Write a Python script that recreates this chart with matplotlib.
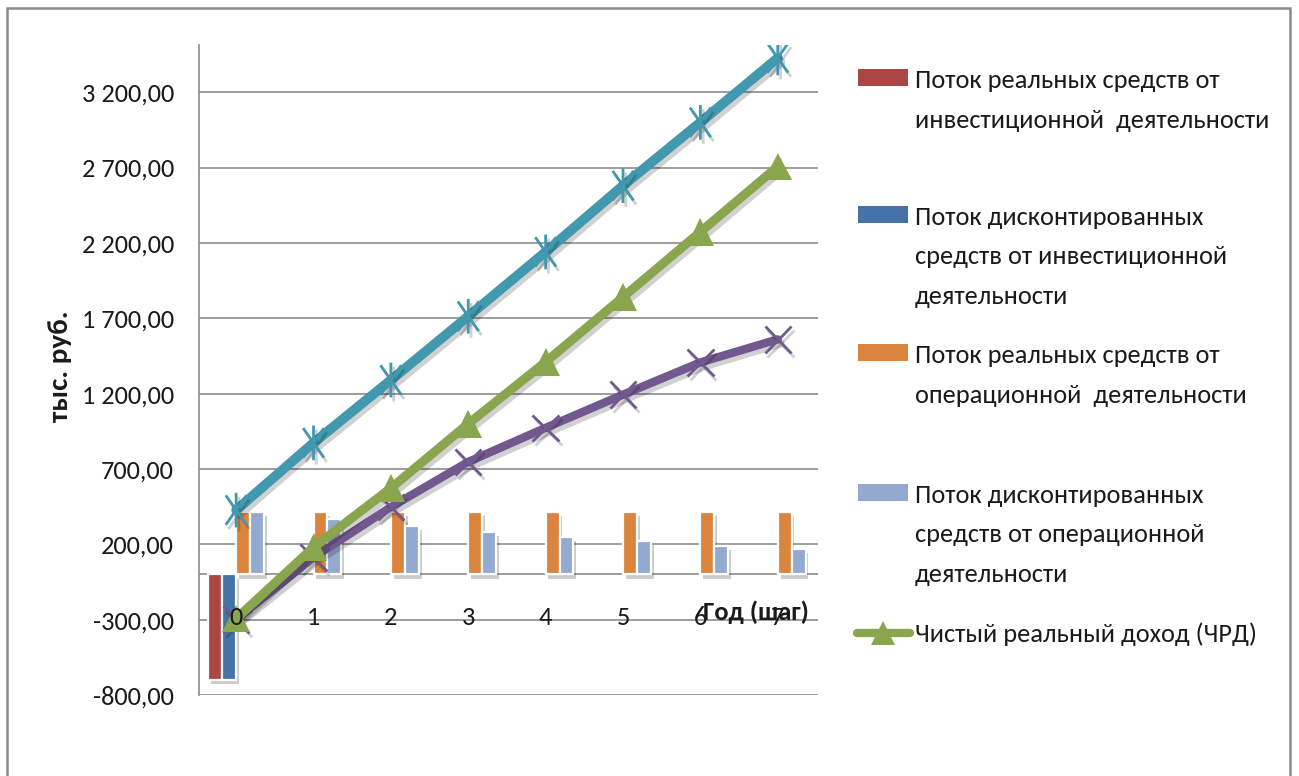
import matplotlib
matplotlib.use("Agg")
import matplotlib.pyplot as plt
import matplotlib.patheffects as pe
from matplotlib.path import Path
from matplotlib.patches import Rectangle
from matplotlib.lines import Line2D
from matplotlib import font_manager
import numpy as np

# ---- data (тыс. руб.) ----
years = [0, 1, 2, 3, 4, 5, 6, 7]
invest_real = [-700, 0, 0, 0, 0, 0, 0, 0]
invest_disc = [-700, 0, 0, 0, 0, 0, 0, 0]
oper_real = [413, 413, 413, 413, 413, 413, 413, 413]
oper_disc = [413, 367, 320, 280, 247, 220, 187, 167]
cum_oper = [427, 873, 1290, 1713, 2140, 2580, 3000, 3427]
net_real = [-293, 180, 573, 1000, 1410, 1840, 2273, 2707]
net_disc = [-300, 113, 447, 747, 973, 1193, 1407, 1560]

y_ticks = [-800, -300, 200, 700, 1200, 1700, 2200, 2700, 3200]

legend_labels = [
    ["Поток реальных средств от", "инвестиционной  деятельности"],
    ["Поток дисконтированных", "средств от инвестиционной", "деятельности"],
    ["Поток реальных средств от", "операционной  деятельности"],
    ["Поток дисконтированных", "средств от операционной", "деятельности"],
    ["Чистый реальный доход (ЧРД)"],
]

# ---- styling ----
available = {f.name for f in font_manager.fontManager.ttflist}
base_font = "DejaVu Sans"
for cand in ["Carlito", "Liberation Sans Narrow", "Lato", "Roboto"]:
    if cand in available:
        base_font = cand
        break
plt.rcParams["font.family"] = [base_font, "DejaVu Sans"]

C_RED = "#AA4643"
C_BLUE = "#4572A7"
C_ORANGE = "#DB843D"
C_LBLUE = "#93A9CF"
C_CYAN = "#4198AF"
C_GREEN = "#89A54E"
C_PURPLE = "#71588F"
GRID = "#8C8C8C"
TXT = "#1A1A1A"

W, H = 1299, 776
fig = plt.figure(figsize=(W / 100, H / 100), dpi=100)


def fx(x):
    return x / W


def fy(y):
    return 1 - y / H


ax = fig.add_axes([fx(199), fy(695), fx(818) - fx(199), fy(45) - fy(695)])
ax.set_xlim(-0.48, 7.52)
ax.set_ylim(-800, 3513)

# grid and axes lines
for t in y_ticks:
    ax.axhline(t, color=GRID, lw=1.2, zorder=0)
ax.axhline(0, color=GRID, lw=1.2, zorder=1)
for s in ["top", "right", "bottom"]:
    ax.spines[s].set_visible(False)
ax.spines["left"].set_color(GRID)
ax.spines["left"].set_linewidth(1.2)

FS = 19
ax.set_yticks(y_ticks)
ax.set_yticklabels([f"{v:,.2f}".replace(",", " ").replace(".", ",") for v in y_ticks],
                   fontsize=FS, color=TXT)
ax.tick_params(axis="y", length=0, pad=18)
ax.set_xticks([])

# category labels placed beside the category axis (y = 0)
for yr in years:
    ax.annotate(str(yr), xy=(yr, 0), xytext=(0, -31), textcoords="offset points",
                ha="center", va="center", fontsize=FS, color=TXT, zorder=6)

# ---- bars ----
x = np.array(years, dtype=float)
bw = 0.18
bar_shadow = [pe.SimplePatchShadow(offset=(2, -3), shadow_rgbFace="#000000", alpha=0.2), pe.Normal()]
series_bars = [(invest_real, C_RED), (invest_disc, C_BLUE), (oper_real, C_ORANGE), (oper_disc, C_LBLUE)]
for k, (vals, col) in enumerate(series_bars):
    bars = ax.bar(x + (k - 1.5) * bw, vals, width=bw, color=col, edgecolor="white",
                  linewidth=1.6, zorder=2)
    for b in bars:
        if b.get_height() != 0:
            b.set_path_effects(bar_shadow)
        else:
            b.set_visible(False)

# ---- lines ----
star = Path([(0, -1), (0, 1), (-0.6, -0.85), (0.6, 0.85), (-0.6, 0.85), (0.6, -0.85)],
            [Path.MOVETO, Path.LINETO, Path.MOVETO, Path.LINETO, Path.MOVETO, Path.LINETO])
line_shadow = [pe.SimpleLineShadow(offset=(2, -3), shadow_color="#000000", alpha=0.18), pe.Normal()]

ax.plot(x, cum_oper, color=C_CYAN, lw=7, marker=star, markersize=25, markeredgewidth=2,
        markeredgecolor=C_CYAN, solid_capstyle="round", zorder=4, path_effects=line_shadow)
ax.plot(x, net_disc, color=C_PURPLE, lw=6, marker="x", markersize=19, markeredgewidth=2,
        markeredgecolor=C_PURPLE, solid_capstyle="round", zorder=4, path_effects=line_shadow)
ax.plot(x, net_real, color=C_GREEN, lw=6.5, marker="^", markersize=20, markeredgewidth=0,
        solid_capstyle="round", zorder=5, path_effects=line_shadow)

# axis titles
ax.annotate("Год (шаг)", xy=(0.9, 0.128), xycoords="axes fraction", ha="center", va="center",
            fontsize=19, fontweight="bold", color=TXT, zorder=7)
fig.text(fx(60), fy(366), "тыс. руб.", rotation=90, ha="center", va="center",
         fontsize=21, fontweight="bold", color=TXT)

# ---- legend ----
baselines = [88, 225, 363, 503, 642]
line_gap = 39.5
patch_cols = [C_RED, C_BLUE, C_ORANGE, C_LBLUE]
for i, lines in enumerate(legend_labels):
    b0 = baselines[i]
    if i < 4:
        fig.patches.append(Rectangle((fx(858), fy(b0 - 2)), fx(908) - fx(858), fy(b0 - 19) - fy(b0 - 2),
                                     transform=fig.transFigure, facecolor=patch_cols[i],
                                     edgecolor="none"))
    else:
        fig.lines.append(Line2D([fx(857), fx(910)], [fy(b0 - 9)] * 2, transform=fig.transFigure,
                                color=C_GREEN, lw=6, solid_capstyle="round"))
        fig.lines.append(Line2D([fx(883)], [fy(b0 - 9)], transform=fig.transFigure,
                                marker="^", markersize=17, color=C_GREEN, markeredgewidth=0))
    for j, txt in enumerate(lines):
        fig.text(fx(915), fy(b0 + j * line_gap), txt, ha="left", va="baseline",
                 fontsize=FS, color=TXT)

# outer chart border
fig.patches.append(Rectangle((fx(7), fy(790)), fx(1290) - fx(7), fy(8) - fy(790),
                             transform=fig.transFigure, facecolor="none",
                             edgecolor="#8A8A8A", lw=1.8))

fig.savefig("out.png", dpi=100)
